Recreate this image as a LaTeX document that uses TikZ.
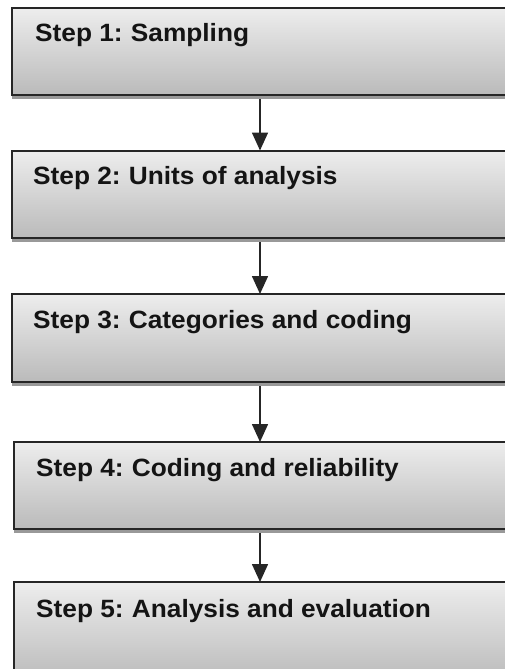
\documentclass[tikz,border=0pt]{standalone}
\usepackage{fontspec}
\newfontfamily\stepfont{Liberation Sans}[FakeStretch=1.05]
\usetikzlibrary{arrows.meta}
\begin{document}
\begin{tikzpicture}[x=1pt,y=-1pt,
  stepbox/.style={draw=black!85, line width=2pt, rectangle, outer sep=0pt, inner sep=0pt,
    top color=black!7, bottom color=black!27, anchor=north west},
  steptext/.style={anchor=base west, inner sep=0pt, font=\stepfont\fontsize{25}{29}\selectfont\bfseries, text=black!92},
  shadowstrip/.style={fill=black!40},
  arr/.style={draw=black!85, line width=1.6pt, -{Triangle[width=16pt,length=18pt]}}]
\useasboundingbox (0,0) rectangle (505,669);
\clip (0,0) rectangle (505,669);
% boxes
\node[stepbox, minimum width=496pt, minimum height=87pt] (b1) at (12,8) {};
\node[stepbox, minimum width=496pt, minimum height=87.5pt] (b2) at (12,150.5) {};
\node[stepbox, minimum width=496pt, minimum height=88pt] (b3) at (12,294) {};
\node[stepbox, minimum width=492pt, minimum height=87pt] (b4) at (14,442) {};
\node[stepbox, minimum width=492pt, minimum height=100pt] (b5) at (14,582) {};
% shadows
\foreach \b in {b1,b2,b3,b4}{
  \fill[shadowstrip] ([yshift=-1pt]\b.south west) rectangle ([yshift=-4pt]\b.south east);
}
% texts
\node[steptext] (t1) at ([xshift=23pt,yshift=-34pt]b1.north west) {Step 1:\hspace{-1.5pt} Sampling};
\node[steptext] (t2) at ([xshift=21pt,yshift=-34pt]b2.north west) {Step 2:\hspace{-1.5pt} Units of analysis};
\node[steptext] (t3) at ([xshift=21pt,yshift=-34pt]b3.north west) {Step 3:\hspace{-1.5pt} Categories and coding};
\node[steptext] (t4) at ([xshift=22pt,yshift=-34pt]b4.north west) {Step 4:\hspace{-1.5pt} Coding and reliability};
\node[steptext] (t5) at ([xshift=22pt,yshift=-35pt]b5.north west) {Step 5:\hspace{-1.5pt} Analysis and evaluation};
% arrows
\draw[arr] ([yshift=-4pt]b1.south) -- (b2.north);
\draw[arr] ([yshift=-4pt]b2.south) -- (b3.north);
\draw[arr] ([yshift=-4pt]b3.south) -- (b4.north);
\draw[arr] ([yshift=-4pt]b4.south) -- (b5.north);
\end{tikzpicture}
\end{document}
